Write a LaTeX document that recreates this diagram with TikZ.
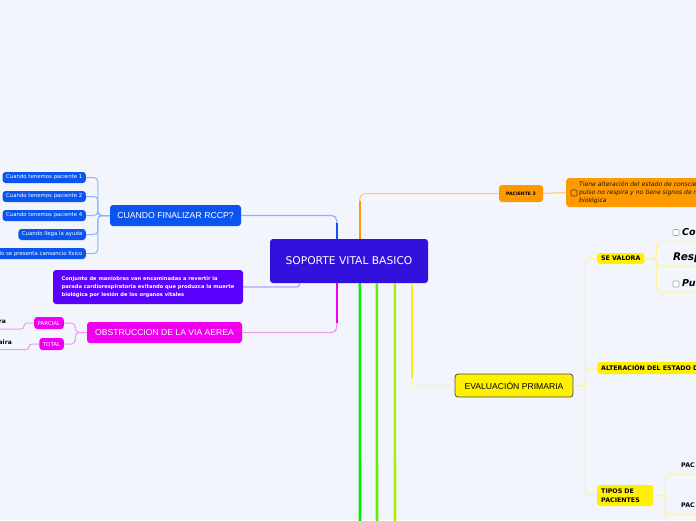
\documentclass[tikz,border=0pt]{standalone}
\usepackage{fontspec}
\setmainfont{Liberation Sans}
\newfontfamily\dejavu{DejaVu Sans}
\usepackage{xcolor}
\usepackage{tikz}
\usetikzlibrary{calc}

\definecolor{bgpage}{HTML}{F3F5FD}
\definecolor{svblue}{HTML}{3311DD}
\definecolor{rcblue}{HTML}{0A55F0}
\definecolor{rcline}{HTML}{8EB2FF}
\definecolor{defpurple}{HTML}{5A00FF}
\definecolor{defline}{HTML}{B89CFF}
\definecolor{obsmag}{HTML}{EE00EE}
\definecolor{obsline}{HTML}{F29AF2}
\definecolor{pacorange}{HTML}{FF9900}
\definecolor{pacline}{HTML}{FFCB8A}
\definecolor{evyellow}{HTML}{FFF000}
\definecolor{evline}{HTML}{FFF39A}
\definecolor{grA}{HTML}{00EE00}
\definecolor{grB}{HTML}{66EE00}
\definecolor{grC}{HTML}{AAEE00}

\newcommand{\fsz}[1]{\fontsize{#1}{#1}\selectfont}

\begin{document}
\begin{tikzpicture}[x=1pt, y=-1pt,
  box/.style={rounded corners=3pt, inner sep=0pt, text=white},
  leafbox/.style={box, inner xsep=3.5pt, minimum height=11pt, font=\dejavu\fsz{5.4}},
  ybox/.style={box, fill=evyellow, text=black, inner xsep=4pt, anchor=west, font=\dejavu\bfseries\fsz{6.3}},
  leaf/.style={anchor=south west, inner xsep=1pt, inner ysep=5pt, text depth=0pt, text width=68pt, align=left, font=\dejavu\bfseries\itshape\fsz{9.5}},
  chk/.style={draw=black!35, fill=white, rounded corners=1pt, line width=0.6pt, minimum size=6pt, inner sep=0pt},
  conn/.style={line width=1.2pt, rounded corners=5pt},
  sub/.style={line width=1pt, rounded corners=4pt},
  trunk/.style={line width=2.6pt}]

  \useasboundingbox (0,0) rectangle (696,520);
  \fill[bgpage] (0,0) rectangle (696,520);
  \clip (0,0) rectangle (696,520);

  % central topic
  \node[box, fill=svblue, minimum width=158pt, minimum height=44pt, font=\dejavu\fsz{10.7}] (sv) at (349,261) {SOPORTE VITAL BASICO};
  \coordinate (svRC) at ($(sv.north west)+(67,0)$);
  \coordinate (svPA) at ($(sv.north west)+(90,0)$);
  \coordinate (svDF) at ($(sv.south west)+(30,0)$);
  \coordinate (svOB) at ($(sv.south west)+(67,0)$);
  \coordinate (svG1) at ($(sv.south west)+(90,0)$);
  \coordinate (svG2) at ($(sv.south west)+(107,0)$);
  \coordinate (svG3) at ($(sv.south west)+(125,0)$);
  \coordinate (svEV) at ($(sv.south west)+(142,0)$);

  % left side
  \node[box, fill=rcblue, minimum width=131pt, minimum height=21pt, font=\fsz{8.7}] (cfin) at (175.5,215.5) {CUANDO FINALIZAR RCCP?};
  \node[leafbox, fill=rcblue, anchor=east] (c1) at (86,177.5) {Cuando tenemos paciente 1};
  \node[leafbox, fill=rcblue, anchor=east] (c2) at (86,196.5) {Cuando tenemos paciente 2};
  \node[leafbox, fill=rcblue, anchor=east] (c3) at (86,215.5) {Cuando tenemos paciente 4};
  \node[leafbox, fill=rcblue, anchor=east] (c4) at (86,234.5) {Cuando llega la ayuda};
  \node[leafbox, fill=rcblue, anchor=east] (c5) at (86,253.5) {Cuando se presenta cansancio físico};

  \node[box, fill=defpurple, minimum width=190pt, inner xsep=8pt, minimum height=34pt, align=left,
        font=\dejavu\bfseries\fontsize{5.15}{8.3}\selectfont] (desc) at (148,287)
        {Conjunto de maniobras van encaminadas a revertir la\\parada cardiorespiratoria evitando que produzca la muerte\\biológica por lesión de los organos vitales};

  \node[box, fill=obsmag, minimum width=155pt, minimum height=21pt, font=\fsz{8.6}] (obs) at (164.5,332.5) {OBSTRUCCION DE LA VIA AEREA};
  \node[leafbox, fill=obsmag, anchor=east, minimum height=12pt, font=\dejavu\fsz{5.5}] (parc) at (64,323) {PARCIAL};
  \node[leafbox, fill=obsmag, anchor=east, minimum height=12pt, font=\dejavu\fsz{5.5}] (tot) at (64,344) {TOTAL};
  \node[anchor=south east, inner xsep=0pt, inner ysep=5pt, text depth=0pt, font=\dejavu\bfseries\fsz{6}] (ra) at (6,329) {ra};
  \node[anchor=south east, inner xsep=0pt, inner ysep=4.5pt, text depth=0pt, font=\dejavu\bfseries\fsz{6}] (aira) at (12,349.5) {aira};

  % right side
  \node[box, fill=pacorange, text=black, minimum width=44pt, minimum height=17pt, font=\dejavu\bfseries\fsz{4.6}] (p3) at (521,193.5) {PACIENTE 3};
  \node[box, fill=pacorange, text=black!85!brown, anchor=west, minimum height=29pt, inner xsep=13pt, align=left,
        font=\dejavu\itshape\fontsize{6.1}{8}\selectfont] (det) at (566,192.5)
        {Tiene alteración del estado de consciencia, no tiene\\pulso no respira y no tiene signos de muerte\\biológica};
  \node[chk, draw=black!75, fill=pacorange] (dchk) at (574,193) {};

  \node[box, fill=evyellow, draw=black!70, line width=0.8pt, text=black, minimum width=118pt, minimum height=23pt, font=\fsz{8.6}] (eva) at (514,385.5) {EVALUACIÓN PRIMARIA};
  \node[ybox, minimum height=11pt] (se) at (597,258.5) {SE VALORA};
  \node[ybox, minimum height=12pt] (alt) at (597,368) {ALTERACIÓN DEL ESTADO DE CONCIENCIA};
  \node[ybox, minimum height=21pt, text width=48pt, align=left, font=\dejavu\bfseries\fontsize{6.3}{9}\selectfont] (tip) at (597,495.5) {TIPOS DE\\PACIENTES};

  \node[leaf] (co) at (681,241) {Co};
  \node[chk] (cochk) at (676,232.5) {};
  \node[leaf, font=\dejavu\bfseries\itshape\fsz{10.5}] (resp) at (672,266) {Resp};
  \node[leaf] (pu) at (681,292) {Pu};
  \node[chk] (puchk) at (676,284) {};
  \node[leaf, inner ysep=6.5pt, font=\dejavu\bfseries\fsz{6.3}] (pac1) at (680,474) {PAC};
  \node[leaf, inner ysep=6.5pt, font=\dejavu\bfseries\fsz{6.3}] (pac2) at (680,514) {PAC};

  % main connectors
  \draw[conn, rcline] (svRC) |- (cfin.east);
  \draw[trunk, rcblue] (svRC) -- ++(0,-16);
  \draw[conn, defline, rounded corners=3pt] (svDF) |- (desc.east);
  \draw[conn, obsline] (svOB) |- (obs.east);
  \draw[trunk, obsmag] (svOB) -- ++(0,40);
  \draw[conn, pacline] (svPA) |- (p3.west);
  \draw[trunk, pacorange] (svPA) -- ++(0,-38);
  \draw[conn, pacline] (p3.east) -- (det.west);
  \draw[conn, evline] (svEV) |- (eva.west);
  \draw[trunk, evyellow] (svEV) -- ++(0,95);
  \coordinate (gA) at (360,530);
  \coordinate (gB) at (377,530);
  \coordinate (gC) at (395,530);
  \draw[trunk, grA] (svG1) -- (gA);
  \draw[trunk, grB] (svG2) -- (gB);
  \draw[trunk, grC] (svG3) -- (gC);

  % sub connectors
  \coordinate (cfinJ) at ($(cfin.west)+(-12,0)$);
  \foreach \n in {c1,c2,c3,c4,c5}
    \draw[sub, rcline] (cfin.west) -- (cfinJ) |- (\n.east);
  \coordinate (obsJ) at ($(obs.west)+(-11.5,0)$);
  \draw[sub, obsline] (obs.west) -- (obsJ) |- (parc.east);
  \draw[sub, obsline] (obs.west) -- (obsJ) |- (tot.east);
  \coordinate (parcJ) at ($(parc.west)+(-10,0)$);
  \coordinate (totJ) at ($(tot.west)+(-10,0)$);
  \draw[sub, obsline, rounded corners=3pt] (parc.west) -- (parcJ) |- (ra.south west);
  \draw[sub, obsline, rounded corners=3pt] (tot.west) -- (totJ) |- (aira.south west);

  \coordinate (evJ) at ($(eva.east)+(12,0)$);
  \foreach \n in {se,alt,tip}
    \draw[sub, evline] (eva.east) -- (evJ) |- (\n.west);
  \coordinate (seJ) at ($(se.east)+(12,0)$);
  \foreach \n in {co,resp,pu}
    \draw[sub, evline] (se.east) -- (seJ) |- (\n.south east);
  \coordinate (tipJ) at ($(tip.east)+(12,0)$);
  \coordinate (tipD) at (665,530);
  \foreach \n in {pac1,pac2}
    \draw[sub, evline] (tip.east) -- (tipJ) |- (\n.south east);
  \draw[sub, evline] (tipJ) -- (tipD);
\end{tikzpicture}
\end{document}
